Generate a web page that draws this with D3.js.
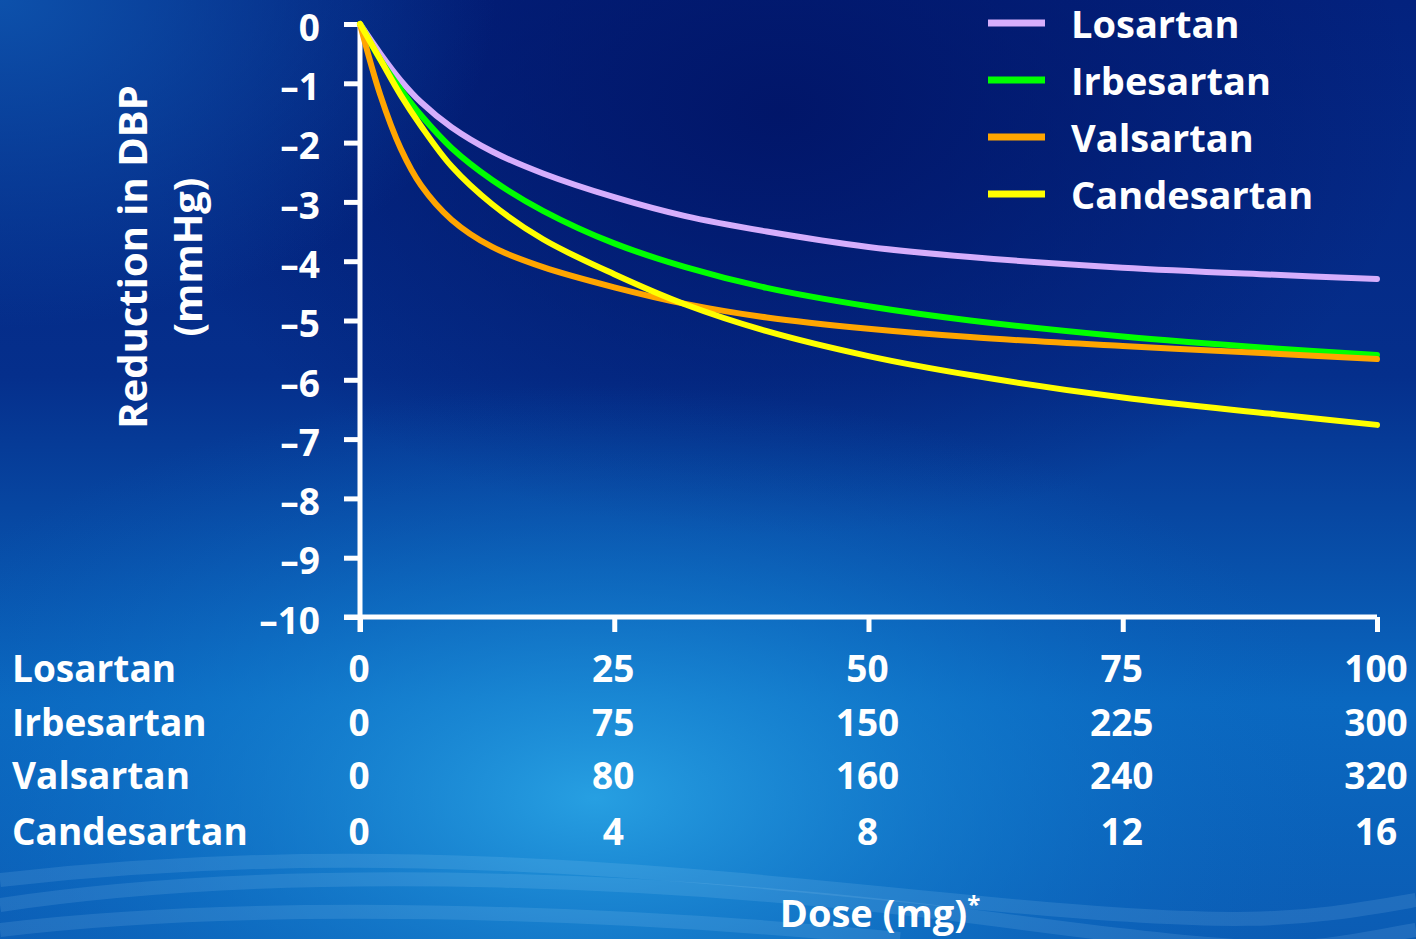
<!DOCTYPE html>
<html>
<head>
<meta charset="utf-8">
<script src="https://cdn.jsdelivr.net/npm/d3@7"></script>
<style>
  body { margin: 0; background: #03207a; }
  svg { display: block; }
  text { font-family: "Open Sans", sans-serif; font-weight: 700; fill: #fff; }
</style>
</head>
<body>
<script>
// page size
var width = 1416;
var height = 939;

// data (dose as % of max dose, reduction in mmHg)
var drugs = ["Losartan", "Irbesartan", "Valsartan", "Candesartan"];
var colors = ["#d6aefc", "#00ff00", "#ffa500", "#ffff00"];
var doseAxis    = [0, 2, 4, 6, 9, 13, 18, 25, 32, 40, 50, 60, 75, 90, 100];
var losartan    = [0, -0.5, -0.95, -1.32, -1.74, -2.15, -2.52, -2.92, -3.24, -3.5, -3.76, -3.93, -4.11, -4.23, -4.3];
var irbesartan  = [0, -0.6, -1.1, -1.54, -2.09, -2.63, -3.15, -3.7, -4.1, -4.45, -4.76, -5.0, -5.27, -5.47, -5.58];
var valsartan   = [0, -1.2, -2.1, -2.72, -3.3, -3.76, -4.1, -4.44, -4.72, -4.95, -5.14, -5.28, -5.43, -5.56, -5.65];
var candesartan = [0, -0.6, -1.2, -1.72, -2.4, -3.04, -3.63, -4.22, -4.73, -5.18, -5.6, -5.92, -6.3, -6.58, -6.76];
var yTicks = [0, -1, -2, -3, -4, -5, -6, -7, -8, -9, -10];
var xTicks = [0, 25, 50, 75, 100];
var doseLabels = [
  ["0", "25", "50", "75", "100"],
  ["0", "75", "150", "225", "300"],
  ["0", "80", "160", "240", "320"],
  ["0", "4", "8", "12", "16"]
];

var series = [losartan, irbesartan, valsartan, candesartan];

var svg = d3.select("body").append("svg")
  .attr("width", width)
  .attr("height", height);

// background
var defs = svg.append("defs");
var lin = defs.append("linearGradient").attr("id", "bg").attr("x1", 0).attr("y1", 0).attr("x2", 0).attr("y2", 1);
lin.append("stop").attr("offset", "0%").attr("stop-color", "#03227e");
lin.append("stop").attr("offset", "40%").attr("stop-color", "#052f8c");
lin.append("stop").attr("offset", "75%").attr("stop-color", "#0a68c0");
lin.append("stop").attr("offset", "100%").attr("stop-color", "#0b5cb4");

var glow = defs.append("radialGradient").attr("id", "glow")
  .attr("cx", 0.42).attr("cy", 0.85).attr("r", 0.55)
  .attr("gradientTransform", "translate(0.42,0.85) scale(1,0.8) translate(-0.42,-0.85)");
glow.append("stop").attr("offset", "0%").attr("stop-color", "#2aa6e6").attr("stop-opacity", 0.9);
glow.append("stop").attr("offset", "55%").attr("stop-color", "#137fd0").attr("stop-opacity", 0.45);
glow.append("stop").attr("offset", "100%").attr("stop-color", "#0a60bc").attr("stop-opacity", 0);

var dark = defs.append("radialGradient").attr("id", "dark")
  .attr("cx", 0.55).attr("cy", 0.12).attr("r", 0.45);
dark.append("stop").attr("offset", "0%").attr("stop-color", "#011568").attr("stop-opacity", 0.95);
dark.append("stop").attr("offset", "100%").attr("stop-color", "#011568").attr("stop-opacity", 0);

var corner = defs.append("radialGradient").attr("id", "corner")
  .attr("cx", 0).attr("cy", 0).attr("r", 0.35);
corner.append("stop").attr("offset", "0%").attr("stop-color", "#0e56b0").attr("stop-opacity", 0.9);
corner.append("stop").attr("offset", "100%").attr("stop-color", "#0e56b0").attr("stop-opacity", 0);

svg.append("rect").attr("width", width).attr("height", height).attr("fill", "url(#bg)");
svg.append("rect").attr("width", width).attr("height", height).attr("fill", "url(#dark)");
svg.append("rect").attr("width", width).attr("height", height).attr("fill", "url(#corner)");
svg.append("rect").attr("width", width).attr("height", height).attr("fill", "url(#glow)");

// faint streaks at the bottom
var streaks = [
  "M0,905 C300,860 700,880 1000,920 S1300,950 1416,930",
  "M0,880 C350,840 650,870 950,900 S1300,920 1416,900",
  "M0,930 C250,900 600,910 900,939"
];
svg.selectAll("path.streak").data(streaks).enter().append("path")
  .attr("class", "streak")
  .attr("d", function (d) { return d; })
  .attr("fill", "none")
  .attr("stroke", "#bfe6ff")
  .attr("stroke-opacity", 0.12)
  .attr("stroke-width", 14);

// scales
var x = d3.scaleLinear().domain([0, 100]).range([360, 1377]);
var y = d3.scaleLinear().domain([0, -10]).range([24, 617]);

// axes
var yAxis = svg.append("g")
  .attr("transform", "translate(" + x(0) + ",0)")
  .call(d3.axisLeft(y).tickValues(yTicks).tickSize(16).tickFormat(function (d) {
    return d === 0 ? "0" : "\u2013" + Math.abs(d);
  }));
var xAxis = svg.append("g")
  .attr("transform", "translate(0," + y(-10) + ")")
  .call(d3.axisBottom(x).tickValues(xTicks).tickSize(15).tickFormat(""));

[yAxis, xAxis].forEach(function (g) {
  g.select(".domain").attr("stroke", "#fff").attr("stroke-width", 5);
  g.selectAll(".tick line").attr("stroke", "#fff").attr("stroke-width", 5);
});
yAxis.select(".domain").attr("d", "M0," + (y(0)) + "V" + (y(-10) + 15));
xAxis.select(".domain").attr("d", "M" + (x(0) - 16) + ",0H" + x(100));
yAxis.selectAll(".tick text")
  .attr("x", -40)
  .attr("dy", "0.44em")
  .style("font-size", "37px")
  .style("font-family", "'Open Sans', sans-serif")
  .style("font-weight", 700)
  .attr("fill", "#fff");

// y axis title
var yt = svg.append("text")
  .attr("transform", "translate(147,257) rotate(-90)")
  .attr("text-anchor", "middle")
  .style("font-size", "40px");
yt.append("tspan").attr("x", 0).attr("dy", 0).text("Reduction in DBP");
yt.append("tspan").attr("x", 0).attr("dy", 55).text("(mmHg)");

// lines
var line = d3.line()
  .x(function (d, i) { return x(doseAxis[i]); })
  .y(function (d) { return y(d); })
  .curve(d3.curveCatmullRom.alpha(0.5));

svg.append("g").selectAll("path")
  .data(series)
  .enter()
  .append("path")
  .attr("d", line)
  .attr("fill", "none")
  .attr("stroke", function (d, i) { return colors[i]; })
  .attr("stroke-width", 6)
  .attr("stroke-linecap", "round");

// legend
var legend = svg.append("g").selectAll("g")
  .data(drugs)
  .enter()
  .append("g")
  .attr("transform", function (d, i) { return "translate(988," + (23 + i * 57) + ")"; });
legend.append("line")
  .attr("x1", 0).attr("x2", 57)
  .attr("stroke", function (d, i) { return colors[i]; })
  .attr("stroke-width", 7);
legend.append("text")
  .attr("x", 83)
  .attr("dy", "0.4em")
  .style("font-size", "38px")
  .text(function (d) { return d; });

// dose table under the x axis
var rows = svg.append("g").selectAll("g")
  .data(drugs)
  .enter()
  .append("g")
  .attr("transform", function (d, i) { return "translate(0," + [682, 736, 789, 845][i] + ")"; });
rows.append("text")
  .attr("x", 12)
  .style("font-size", "37px")
  .text(function (d) { return d; });
rows.each(function (d, i) {
  d3.select(this).selectAll("text.dose")
    .data(doseLabels[i])
    .enter()
    .append("text")
    .attr("class", "dose")
    .attr("x", function (t, j) { return x(xTicks[j]) - 1; })
    .attr("text-anchor", "middle")
    .style("font-size", "37px")
    .text(function (t) { return t; });
});

// x axis title
var xt = svg.append("text")
  .attr("x", 880)
  .attr("y", 927)
  .attr("text-anchor", "middle")
  .style("font-size", "38px");
xt.append("tspan").text("Dose (mg)");
xt.append("tspan").attr("dy", "-0.6em").style("font-size", "24px").text("*");
</script>
</body>
</html>
